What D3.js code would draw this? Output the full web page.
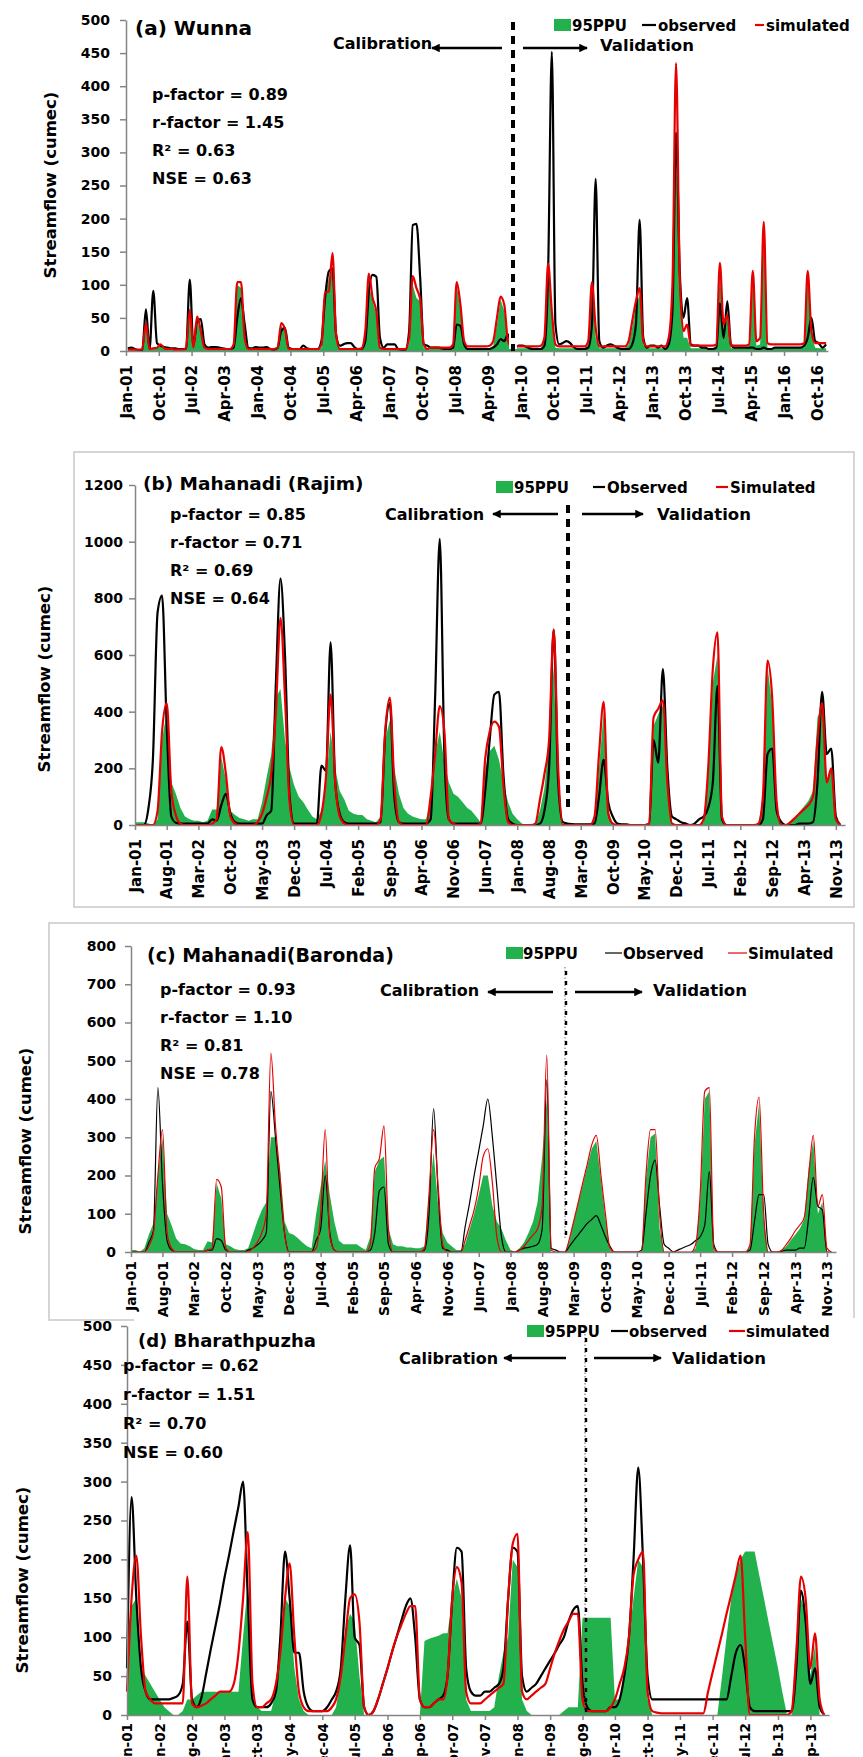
<!DOCTYPE html>
<html>
<head>
<meta charset="utf-8">
<script src="https://cdn.jsdelivr.net/npm/d3@7"></script>
<style>
  body { margin: 0; background: #fff; }
  svg { display: block; font-family: "DejaVu Sans", sans-serif; font-weight: bold; }
</style>
</head>
<body>
<svg id="chart" width="863" height="1757"></svg>
<script>
// ---- tick labels ----
const ticksA = ['Jan-01','Oct-01','Jul-02','Apr-03','Jan-04','Oct-04','Jul-05','Apr-06','Jan-07','Oct-07','Jul-08',
  'Apr-09','Jan-10','Oct-10','Jul-11','Apr-12','Jan-13','Oct-13','Jul-14','Apr-15','Jan-16','Oct-16'];
const ticksBC = ['Jan-01','Aug-01','Mar-02','Oct-02','May-03','Dec-03','Jul-04','Feb-05','Sep-05','Apr-06','Nov-06',
  'Jun-07','Jan-08','Aug-08','Mar-09','Oct-09','May-10','Dec-10','Jul-11','Feb-12','Sep-12','Apr-13','Nov-13'];
const ticksD = ['Jun-01','Jan-02','Aug-02','Mar-03','Oct-03','May-04','Dec-04','Jul-05','Feb-06','Sep-06','Apr-07',
  'Nov-07','Jun-08','Jan-09','Aug-09','Mar-10','Oct-10','May-11','Dec-11','Jul-12','Feb-13','Sep-13'];

// ---- (a) Wunna, monthly Jan 2001 - Dec 2016 ----
const obsA = [
  4,5,3,1,1,63,3,91,12,8,6,5,  4,4,3,3,3,108,8,45,48,10,5,6,  6,5,4,3,3,5,50,80,40,5,4,6,
  5,5,6,3,2,5,30,35,5,3,3,3,  8,4,3,3,3,15,80,120,125,25,8,10,  12,12,6,3,3,15,90,115,112,20,5,10,
  10,10,3,2,2,30,190,192,110,10,8,5,  5,5,4,3,3,5,40,38,10,3,3,3,  3,3,3,3,5,10,18,15,25,8,6,8,
  8,6,4,3,3,3,8,120,452,40,10,12,  15,12,6,3,3,3,5,40,260,15,5,8,  10,8,5,3,3,3,10,40,198,20,5,8,
  8,5,8,3,10,60,330,120,50,80,10,8,  8,5,5,3,3,5,72,20,75,10,5,5,  5,5,5,5,3,3,5,3,3,5,5,5,
  5,5,5,5,5,8,20,50,15,12,5,10];
const simA = [
  2,2,2,2,3,42,3,4,5,10,4,3,  3,2,2,2,5,62,5,52,30,5,3,3,  3,3,3,3,3,10,104,104,20,3,3,3,
  3,3,3,3,3,5,42,33,3,3,3,3,  3,3,3,3,3,10,88,90,148,25,3,3,  3,3,3,3,4,30,117,80,60,5,3,3,
  3,3,3,3,3,20,113,95,78,10,3,5,  5,5,5,5,5,10,104,70,15,7,7,7,  7,7,7,8,15,50,82,70,15,7,7,7,
  7,7,7,7,7,8,20,132,60,10,7,7,  7,7,7,7,7,7,15,104,35,7,7,7,  7,7,7,7,7,15,45,75,95,15,7,7,
  7,7,7,7,20,100,435,110,30,40,8,8,  8,8,8,8,8,10,133,40,55,8,8,8,  8,8,10,121,15,20,195,12,10,10,10,10,
  10,10,10,10,10,12,121,30,12,12,12,12];
const ppuA = [
  1,1,1,1,2,38,2,3,4,8,3,2,  2,1,1,1,3,55,3,45,28,3,2,2,  2,2,2,2,2,8,100,95,15,2,2,2,
  2,2,2,2,2,3,38,30,2,2,2,2,  2,2,2,2,2,5,85,110,125,15,2,2,  2,2,2,2,2,20,100,75,55,3,2,2,
  2,2,2,2,2,10,100,80,75,5,2,3,  4,4,4,4,4,8,100,65,10,4,4,4,  4,4,4,4,8,40,78,60,20,4,4,4,
  4,4,4,4,4,4,15,128,55,5,4,4,  4,4,4,4,4,4,10,100,20,4,4,4,  4,4,4,4,4,10,35,70,85,10,4,4,
  4,4,4,4,15,90,300,100,20,20,4,4,  4,4,4,4,4,5,120,30,50,4,4,4,  4,4,5,110,8,10,180,5,4,4,4,4,
  4,4,4,4,4,5,115,25,5,4,4,4];

// ---- (b) Mahanadi (Rajim), monthly Jan 2001 - Dec 2013 ----
const obsB = [
  0,0,0,60,235,750,810,350,30,8,5,5,  5,5,5,5,5,20,15,70,110,40,10,5,  5,5,5,5,5,35,50,500,870,600,100,5,
  5,5,5,5,5,210,190,645,150,40,10,5,  5,5,5,5,5,5,10,320,430,100,10,5,  5,5,5,5,5,20,450,1010,250,20,5,5,
  5,5,5,5,5,120,300,460,470,176,20,5,  0,0,0,0,0,5,50,200,690,150,10,5,  3,2,2,2,2,5,100,230,80,30,5,2,
  2,0,0,0,0,5,300,220,550,200,30,20,  10,5,0,5,20,30,60,150,490,20,0,0,  0,0,0,0,0,0,20,250,270,50,10,0,
  0,0,5,5,5,10,150,470,250,270,30,0];
const simB = [
  0,0,0,0,0,50,330,430,120,35,5,0,  0,0,0,0,0,5,20,275,180,30,5,0,  0,0,0,10,40,100,180,400,730,450,80,0,
  0,0,0,0,0,40,170,460,150,30,5,0,  0,0,0,0,0,0,20,330,450,150,10,0,  0,0,0,0,0,100,250,420,330,20,5,0,
  0,0,0,0,5,235,330,365,347,140,10,0,  0,0,0,0,5,90,180,300,690,200,0,0,  0,0,0,0,0,30,250,435,40,5,0,0,
  0,0,0,0,0,5,380,410,440,150,5,0,  0,0,0,0,0,20,200,550,680,30,0,0,  0,0,0,0,0,5,100,580,450,80,0,0,
  10,25,40,55,70,100,300,430,150,200,20,0];
const ppuB = [
  10,10,10,5,0,20,300,400,150,110,60,30,  20,15,15,10,15,55,55,240,160,50,35,25,  20,15,20,20,80,170,250,450,480,300,200,140,
  100,80,55,30,20,50,150,330,200,120,90,50,  40,35,35,20,15,10,30,300,370,200,110,60,  40,30,25,20,20,80,250,330,220,150,110,100,
  80,60,50,30,10,200,260,280,230,150,80,40,  20,5,0,0,0,50,130,300,560,100,0,0,  0,0,0,0,0,20,200,400,50,5,0,0,
  0,0,0,0,0,5,350,390,420,150,10,0,  0,0,0,0,0,10,180,500,600,20,0,0,  0,0,0,0,0,5,90,560,420,70,0,0,
  10,25,45,65,85,120,380,420,150,200,20,0];

// ---- (c) Mahanadi (Baronda), monthly Jan 2001 - Dec 2013 ----
const obsC = [
  0,0,0,0,25,55,430,180,30,5,0,0,  0,0,0,0,0,5,5,35,30,5,0,0,  0,0,5,10,18,30,50,420,300,170,50,0,
  0,0,0,0,0,30,60,200,50,5,0,0,  0,0,0,0,0,5,50,160,170,20,0,0,  0,0,0,0,0,5,100,375,150,10,5,0,
  0,0,65,130,200,265,330,400,300,170,40,0,  0,0,5,10,12,15,20,60,450,10,5,0,  0,15,30,45,60,75,85,95,70,40,15,0,
  0,0,0,0,0,5,100,200,240,120,20,10,  0,5,10,15,20,30,40,70,210,20,0,0,  0,0,0,0,0,5,80,150,150,20,0,0,
  2,5,5,5,10,10,90,195,120,110,0,0];
const simC = [
  0,0,0,0,15,50,200,320,50,10,0,0,  0,0,0,0,0,5,10,190,170,10,0,0,  0,0,0,10,25,50,100,520,330,200,50,0,
  0,0,0,0,0,10,100,320,40,5,0,0,  0,0,0,0,0,20,220,245,330,60,0,0,  0,0,0,0,0,10,150,320,170,20,0,0,
  0,0,30,70,110,170,250,270,180,40,0,0,  0,0,5,15,30,45,60,120,515,5,0,0,  0,35,80,130,180,230,280,305,200,100,10,0,
  0,0,0,0,0,0,200,320,320,100,0,0,  0,0,0,0,0,20,150,420,430,10,0,0,  0,0,0,0,0,20,300,405,100,0,0,0,
  5,20,35,55,70,90,200,305,120,150,10,0];
const ppuC = [
  5,5,0,10,45,75,200,300,100,70,35,22,  20,15,8,5,5,28,25,180,140,20,15,8,  5,5,10,45,80,110,130,300,300,220,80,50,
  45,35,25,15,10,100,170,240,150,80,30,20,  20,20,20,12,5,40,210,240,250,60,20,15,  15,12,12,10,10,15,150,260,120,50,25,15,
  5,5,20,60,100,150,200,200,120,80,60,30,  5,0,10,25,50,80,130,250,400,0,0,0,  0,30,80,130,175,225,270,290,190,90,5,0,
  0,0,0,0,0,0,190,300,310,60,0,0,  0,0,0,0,0,10,130,400,420,5,0,0,  0,0,0,0,0,15,280,390,90,0,0,0,
  5,15,30,45,60,85,220,290,100,130,0,0];

// ---- (d) Bharathpuzha, monthly Jun 2001 - Dec 2013 ----
const obsD = [
  60,280,150,60,30,20,20,20,20,20,22,25,  40,120,20,10,22,53,84,114,145,176,206,237,
  268,300,150,20,10,10,10,15,30,100,210,150,  80,80,30,10,5,5,5,10,20,30,60,150,
  218,100,90,10,0,5,20,40,60,80,100,120,  140,150,100,20,10,10,15,20,25,50,150,215,
  210,60,30,25,25,30,30,35,40,60,150,215,  210,50,30,35,40,50,60,70,80,90,100,120,
  135,140,40,10,5,5,5,5,10,10,20,50,  100,200,318,200,50,20,20,20,20,20,20,20,
  20,20,20,20,20,20,20,20,20,20,50,80,  90,60,10,5,5,5,5,5,5,5,5,5,  60,160,120,40,60,10,0];
const simD = [
  30,150,205,100,30,20,15,15,15,15,15,15,  15,178,15,10,12,15,20,25,30,30,30,40,
  80,150,235,40,10,10,15,20,40,80,150,195,  100,30,10,5,5,5,5,5,10,20,50,100,
  150,155,120,10,0,5,20,40,60,80,100,115,  130,140,140,20,10,10,15,20,20,50,150,190,
  170,30,15,15,15,20,25,30,35,40,150,220,  233,30,20,25,30,35,40,60,80,95,110,120,
  130,130,20,5,5,5,5,5,10,20,40,60,  100,180,200,210,30,5,3,2,2,2,2,2,
  2,2,2,2,2,30,55,80,105,130,155,180,  205,100,0,0,0,0,0,0,0,0,0,5,  80,178,150,60,105,20,0];
const ppuD = [
  100,140,150,60,50,40,30,20,10,5,0,0,  5,20,20,25,30,30,30,30,30,30,30,30,
  30,100,170,20,10,5,5,5,30,100,150,140,  60,20,5,0,0,0,0,0,0,10,50,110,
  130,120,50,0,0,0,0,0,0,0,0,0,  0,0,0,0,95,98,100,102,105,105,150,175,
  150,20,5,5,5,5,5,10,50,80,100,200,  190,20,5,0,0,0,0,0,0,0,5,10,
  10,10,125,125,125,125,125,125,125,20,20,50,  100,150,200,190,20,0,0,0,0,0,0,0,
  0,0,0,0,0,0,0,0,50,100,150,180,  200,210,210,210,180,150,120,90,60,30,0,0,  100,150,130,50,90,0,0];

// ---- layout of the four panels ----
const panels = [
  { obs: obsA, sim: simA, ppu: ppuA, ticks: ticksA, months: 192, shift: 15,
    x0: 126, x1: 828, y0: 351, y1: 20, yMax: 500, yStep: 50, tickPad: 10, lw: 2.2, xfs: 15, xpad: 14,
    title: '(a) Wunna', tx: 135, ty: 35, tsize: 20,
    stats: ['p-factor = 0.89', 'r-factor = 1.45', 'R² = 0.63', 'NSE = 0.63'], sx: 152, sy: 100, sdy: 28,
    legY: 25, legRect: 554, leg95: 572, legObs: [642, 656, 658], legSim: [755, 764, 766],
    labels: ['observed', 'simulated'],
    cx: 333, cy: 49, la: [502, 432, 48], div: [513, 22, 351], divStyle: 'thick', ra: [523, 587, 48], vx: 600, vy: 51,
    ytx: 50, yty: 185 },
  { obs: obsB, sim: simB, ppu: ppuB, ticks: ticksBC, months: 156, shift: 0,
    x0: 135, x1: 845, y0: 825, y1: 485, yMax: 1200, yStep: 200, tickPad: 6, lw: 2.2, xfs: 15, xpad: 14,
    title: '(b) Mahanadi (Rajim)', tx: 143, ty: 490, tsize: 18.5,
    stats: ['p-factor = 0.85', 'r-factor = 0.71', 'R² = 0.69', 'NSE = 0.64'], sx: 170, sy: 520, sdy: 28,
    legY: 487, legRect: 496, leg95: 514, legObs: [593, 605, 607], legSim: [716, 728, 730],
    labels: ['Observed', 'Simulated'],
    cx: 385, cy: 520, la: [558, 493, 514], div: [568, 505, 810], divStyle: 'thick', ra: [582, 643, 514], vx: 657, vy: 520,
    ytx: 44, yty: 679, frame: [74, 452, 854, 907] },
  { obs: obsC, sim: simC, ppu: ppuC, ticks: ticksBC, months: 156, shift: 0,
    x0: 131, x1: 836, y0: 1252, y1: 946, yMax: 800, yStep: 100, tickPad: 9, lw: 1.2, xfs: 14, xpad: 9,
    title: '(c) Mahanadi(Baronda)', tx: 147, ty: 962, tsize: 19,
    stats: ['p-factor = 0.93', 'r-factor = 1.10', 'R² = 0.81', 'NSE = 0.78'], sx: 160, sy: 995, sdy: 28,
    legY: 953, legRect: 506, leg95: 523, legObs: [605, 622, 623], legSim: [728, 747, 748],
    labels: ['Observed', 'Simulated'],
    cx: 380, cy: 996, la: [553, 488, 992], div: [565, 967, 1240], divStyle: 'dotted', ra: [575, 642, 992], vx: 653, vy: 996,
    ytx: 25, yty: 1141, frame: [49, 923, 854, 1320] },
  { obs: obsD, sim: simD, ppu: ppuD, ticks: ticksD, months: 151, shift: 0,
    x0: 127, x1: 829, y0: 1715, y1: 1326, yMax: 500, yStep: 50, tickPad: 9, lw: 2.2, xfs: 13.5, xpad: 8,
    title: '(d) Bharathpuzha', tx: 138, ty: 1347, tsize: 18,
    stats: ['p-factor = 0.62', 'r-factor = 1.51', 'R² = 0.70', 'NSE = 0.60'], sx: 123, sy: 1371, sdy: 29,
    legY: 1331, legRect: 527, leg95: 545, legObs: [611, 628, 629], legSim: [729, 745, 746],
    labels: ['observed', 'simulated'],
    cx: 399, cy: 1364, la: [566, 504, 1358], div: [585, 1334, 1715], divStyle: 'dotted', ra: [594, 661, 1358], vx: 672, vy: 1364,
    ytx: 22, yty: 1580, cover: [134, 1318] }
];

const GREEN = '#22b14c', RED = '#e60000', GRAY = '#858585';
const parse = d3.timeParse('%b-%y');
const fmt = d3.timeFormat('%b-%y');

const svg = d3.select('#chart');
svg.append('rect').attr('width', 863).attr('height', 1757).attr('fill', '#fff');

const defs = svg.append('defs');
defs.append('marker')
  .attr('id', 'head')
  .attr('viewBox', '0 0 10 10')
  .attr('refX', 9).attr('refY', 5)
  .attr('markerWidth', 3.6).attr('markerHeight', 3.6)
  .attr('orient', 'auto')
  .append('path').attr('d', 'M0,0L10,5L0,10z').attr('fill', '#000');

panels.forEach((p) => {
  const g = svg.append('g');

  if (p.cover) {
    g.append('rect').attr('x', p.cover[0]).attr('y', p.cover[1])
      .attr('width', 863 - p.cover[0]).attr('height', 1757 - p.cover[1]).attr('fill', '#fff');
  }
  if (p.frame) {
    const [fx0, fy0, fx1, fy1] = p.frame;
    g.append('rect').attr('x', fx0).attr('y', fy0).attr('width', fx1 - fx0).attr('height', fy1 - fy0)
      .attr('fill', '#fff').attr('stroke', '#c8c8c8').attr('stroke-width', 1.5);
  }

  const start = parse(p.ticks[0]);
  const x = d3.scaleTime().domain([start, d3.timeMonth.offset(start, p.months)]).range([p.x0, p.x1]);
  const y = d3.scaleLinear().domain([0, p.yMax]).range([p.y0, p.y1]);
  const when = (i) => d3.timeDay.offset(d3.timeMonth.offset(start, i), p.shift);
  const rows = (arr) => arr.map((v, i) => ({ t: when(i), v })).filter((d) => d.v != null);

  // 95PPU band
  g.append('path')
    .datum(rows(p.ppu))
    .attr('fill', GREEN)
    .attr('d', d3.area().x((d) => x(d.t)).y0(y(0)).y1((d) => y(d.v)));

  const line = d3.line().curve(d3.curveMonotoneX).x((d) => x(d.t)).y((d) => y(d.v));
  g.append('path').datum(rows(p.obs)).attr('fill', 'none').attr('stroke', '#000')
    .attr('stroke-width', p.lw).attr('stroke-linejoin', 'round').attr('d', line);
  g.append('path').datum(rows(p.sim)).attr('fill', 'none').attr('stroke', RED)
    .attr('stroke-width', p.lw).attr('stroke-linejoin', 'round').attr('d', line);

  // axes
  const xAxis = g.append('g').attr('transform', `translate(0,${p.y0})`)
    .call(d3.axisBottom(x).tickValues(p.ticks.map(parse)).tickFormat(fmt).tickSize(5).tickSizeOuter(0));
  xAxis.selectAll('text')
    .attr('transform', 'rotate(-90)')
    .attr('text-anchor', 'end')
    .attr('x', -p.xpad).attr('y', 0).attr('dy', '0.35em')
    .attr('font-size', p.xfs).attr('font-family', 'DejaVu Sans').attr('font-weight', 'bold').attr('fill', '#000');

  const yAxis = g.append('g').attr('transform', `translate(${p.x0},0)`)
    .call(d3.axisLeft(y).tickValues(d3.range(0, p.yMax + 1, p.yStep)).tickFormat(d3.format('d'))
      .tickSize(6).tickPadding(p.tickPad).tickSizeOuter(0));
  yAxis.selectAll('text')
    .attr('font-size', 14).attr('font-family', 'DejaVu Sans').attr('font-weight', 'bold').attr('fill', '#000');

  [xAxis, yAxis].forEach((ax) => {
    ax.select('.domain').attr('stroke', GRAY).attr('stroke-width', 1.5);
    ax.selectAll('.tick line').attr('stroke', GRAY).attr('stroke-width', 1.5);
  });

  // y title
  g.append('text')
    .attr('transform', `translate(${p.ytx},${p.yty}) rotate(-90)`)
    .attr('text-anchor', 'middle').attr('dy', '0.35em')
    .attr('font-size', 16.5)
    .text('Streamflow (cumec)');

  // panel title and statistics
  g.append('text').attr('x', p.tx).attr('y', p.ty).attr('font-size', p.tsize).text(p.title);
  p.stats.forEach((s, i) => {
    g.append('text').attr('x', p.sx).attr('y', p.sy + i * p.sdy).attr('font-size', 16).text(s);
  });

  // legend
  g.append('rect').attr('x', p.legRect).attr('y', p.legY - 6).attr('width', 17).attr('height', 12).attr('fill', GREEN);
  g.append('text').attr('x', p.leg95).attr('y', p.legY + 5.5).attr('font-size', 15).text('95PPU');
  g.append('line').attr('x1', p.legObs[0]).attr('x2', p.legObs[1]).attr('y1', p.legY).attr('y2', p.legY)
    .attr('stroke', '#000').attr('stroke-width', p.lw);
  g.append('text').attr('x', p.legObs[2]).attr('y', p.legY + 5.5).attr('font-size', 15).text(p.labels[0]);
  g.append('line').attr('x1', p.legSim[0]).attr('x2', p.legSim[1]).attr('y1', p.legY).attr('y2', p.legY)
    .attr('stroke', RED).attr('stroke-width', p.lw);
  g.append('text').attr('x', p.legSim[2]).attr('y', p.legY + 5.5).attr('font-size', 15).text(p.labels[1]);

  // calibration / validation divider
  const [dx, dy0, dy1] = p.div;
  if (p.divStyle === 'thick') {
    g.append('rect').attr('x', dx - 4).attr('y', dy0).attr('width', 8).attr('height', dy1 - dy0 - 2).attr('fill', '#fff');
    g.append('line').attr('x1', dx).attr('x2', dx).attr('y1', dy0).attr('y2', dy1)
      .attr('stroke', '#000').attr('stroke-width', 4).attr('stroke-dasharray', '8,6');
  } else {
    g.append('line').attr('x1', dx).attr('x2', dx).attr('y1', dy0).attr('y2', dy1)
      .attr('stroke', '#666').attr('stroke-width', 1).attr('stroke-dasharray', '1.5,2');
    g.append('line').attr('x1', dx + 1).attr('x2', dx + 1).attr('y1', dy0 + 4).attr('y2', dy1)
      .attr('stroke', '#000').attr('stroke-width', 2.4).attr('stroke-dasharray', '4,6');
  }
  g.append('line').attr('x1', p.la[0]).attr('x2', p.la[1]).attr('y1', p.la[2]).attr('y2', p.la[2])
    .attr('stroke', '#000').attr('stroke-width', 2.4).attr('marker-end', 'url(#head)');
  g.append('line').attr('x1', p.ra[0]).attr('x2', p.ra[1]).attr('y1', p.ra[2]).attr('y2', p.ra[2])
    .attr('stroke', '#000').attr('stroke-width', 2.4).attr('marker-end', 'url(#head)');
  g.append('text').attr('x', p.cx).attr('y', p.cy).attr('font-size', 16).text('Calibration');
  g.append('text').attr('x', p.vx).attr('y', p.vy).attr('font-size', 16.5).text('Validation');
});
</script>
</body>
</html>
